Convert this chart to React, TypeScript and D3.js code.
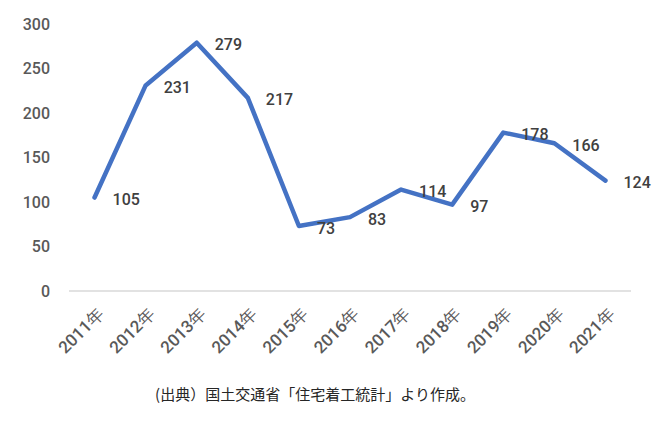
import React, { useEffect } from 'react';
import * as d3 from 'd3';

const years = ['2011年', '2012年', '2013年', '2014年', '2015年', '2016年', '2017年', '2018年', '2019年', '2020年', '2021年'];
const values = [105, 231, 279, 217, 73, 83, 114, 97, 178, 166, 124];
const yTicks = [0, 50, 100, 150, 200, 250, 300];
const caption = '(出典）国土交通省「住宅着工統計」より作成。';

const width = 666;
const height = 423;
const margin = { top: 24, right: 35, bottom: 132, left: 69 };

const numFont = 'Roboto, "Noto Sans", sans-serif';
const jpFont = '"Noto Sans CJK JP", "Noto Sans", sans-serif';

export default function App() {
  useEffect(() => {
    document.body.style.margin = '0';
  }, []);

  const x = d3
    .scaleBand<string>()
    .domain(years)
    .range([margin.left, width - margin.right]);

  const y = d3
    .scaleLinear()
    .domain([0, 300])
    .range([height - margin.bottom, margin.top]);

  const cx = (d: string) => (x(d) ?? 0) + x.bandwidth() / 2;

  const line = d3
    .line<number>()
    .x((_, i) => cx(years[i]))
    .y(d => y(d));

  return (
    <svg width={width} height={height} style={{ display: 'block', background: '#fff' }}>
      {/* baseline */}
      <line
        x1={margin.left}
        x2={width - margin.right}
        y1={y(0)}
        y2={y(0)}
        stroke="#d9d9d9"
        strokeWidth={1.5}
      />

      {/* y tick labels */}
      {yTicks.map(t => (
        <text
          key={t}
          x={50}
          y={y(t)}
          textAnchor="end"
          dominantBaseline="central"
          fontFamily={numFont}
          fontWeight={500}
          fontSize={16}
          fill="#595959"
        >
          {t}
        </text>
      ))}

      {/* x tick labels */}
      {years.map(yr => (
        <text
          key={yr}
          transform={`translate(${cx(yr) + 6},${y(0) + 20}) rotate(-45)`}
          textAnchor="end"
          dominantBaseline="central"
          fontFamily={numFont}
          fontWeight={500}
          fontSize={17}
          fill="#595959"
        >
          {yr}
        </text>
      ))}

      {/* series */}
      <path
        d={line(values) ?? ''}
        fill="none"
        stroke="#4472c4"
        strokeWidth={4.5}
        strokeLinecap="round"
        strokeLinejoin="round"
      />

      {/* data labels */}
      {values.map((v, i) => (
        <text
          key={i}
          x={cx(years[i]) + 18}
          y={y(v) + 2}
          dominantBaseline="central"
          fontFamily={numFont}
          fontWeight={500}
          fontSize={16}
          fill="#404040"
        >
          {v}
        </text>
      ))}

      {/* source */}
      <text
        x={315}
        y={393}
        textAnchor="middle"
        dominantBaseline="central"
        fontFamily={jpFont}
        fontSize={15}
        fill="#262626"
      >
        {caption}
      </text>
    </svg>
  );
}
